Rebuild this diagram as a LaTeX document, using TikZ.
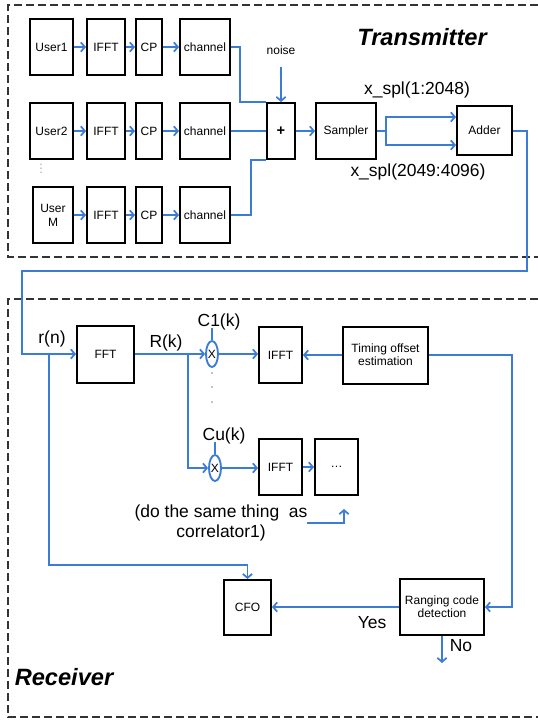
\documentclass[tikz,border=0pt]{standalone}
\usepackage{fontspec}
\setmainfont{Liberation Sans}
\usetikzlibrary{arrows.meta,shapes.geometric}
\definecolor{lineblue}{RGB}{58,124,214}
\begin{document}
\begin{tikzpicture}[x=0.75pt,y=-0.75pt,
  blk/.style={draw=black,line width=1.5pt,fill=white,inner sep=1pt,align=center,font=\fontsize{9}{10.5}\selectfont},
  bl/.style={draw=lineblue,line width=1.4pt},
  arr/.style={bl,-{Straight Barb[length=3pt,width=7pt,line width=1.3pt]}},
  frame/.style={draw=black!80,line width=0.8pt,dash pattern=on 6pt off 3pt},
  big/.style={font=\fontsize{13.1}{15.5}\selectfont},
  small/.style={font=\fontsize{9}{10.5}\selectfont},
  ttl/.style={font=\fontsize{17.7}{20}\selectfont\bfseries\itshape},
  xel/.style={ellipse,draw=lineblue,line width=1.4pt,minimum width=12*0.75pt,minimum height=26*0.75pt,inner sep=0pt,font=\fontsize{9}{10}\selectfont}
]
\useasboundingbox (0,0) rectangle (538,722);
% frames (right edges lie beyond the picture)
\draw[frame] (538,5) -- (8,5) -- (8,257) -- (538,257);
\draw[frame] (538,299) -- (8,299) -- (8,717) -- (538,717);
\node[ttl] (ttx) at (422,37) {Transmitter};
\node[ttl] (trx) at (64,677) {Receiver};

% transmitter rows
\foreach \r/\y/\u in {1/47/User1,2/131/User2}{
  \node[blk,minimum width=43*0.75pt,minimum height=56*0.75pt] (u\r) at (51.5,\y) {\u};
}
\node[blk,minimum width=40*0.75pt,minimum height=56*0.75pt] (u3) at (53,215) {User\\M};
\foreach \r/\y in {1/47,2/131,3/215}{
  \node[blk,minimum width=38*0.75pt,minimum height=56*0.75pt] (if\r) at (106,\y) {IFFT};
  \node[blk,minimum width=26*0.75pt,minimum height=56*0.75pt] (cp\r) at (149,\y) {CP};
  \node[blk,minimum width=50*0.75pt,minimum height=56*0.75pt] (ch\r) at (205,\y) {channel};
  \draw[arr] (u\r) -- (if\r);
  \draw[arr] (if\r) -- (cp\r);
  \draw[arr] (cp\r) -- (ch\r);
}
\foreach \yy in {164,168,172} \fill (41,\yy) circle (0.5);

\node[blk,minimum width=28*0.75pt,minimum height=56*0.75pt,font=\fontsize{11}{12}\selectfont\bfseries] (plus) at (281,131) {+};
\node[small] (noise) at (281,50) {noise};
\coordinate (nz) at (281,67);
\draw[arr] (nz) -- (plus.north);
\draw[bl] (ch1.east) -- (240,47) |- (plus.north west);
\draw[bl] (ch2.east) -- (plus.west);
\draw[bl] (ch3.east) -- (251,215) |- (plus.south west);

\node[blk,minimum width=60*0.75pt,minimum height=56*0.75pt] (samp) at (346,131) {Sampler};
\draw[arr] (plus) -- (samp);
\node[blk,minimum width=55*0.75pt,minimum height=49*0.75pt] (add) at (484.5,130) {Adder};
\coordinate (sp) at (386,131);
\draw[bl] (samp.east) -- (sp);
\draw[arr] (sp) |- (add.west |- 0,117);
\draw[arr] (sp) |- (add.west |- 0,145);
\node[big] (l1) at (417,90) {x\_spl(1:2048)};
\node[big] (l2) at (418,172) {x\_spl(2049:4096)};

% receiver
\node[blk,minimum width=57*0.75pt,minimum height=57*0.75pt] (fft) at (105.5,354) {FFT};
\coordinate (a1) at (527,131);
\coordinate (a2) at (527,271);
\coordinate (a3) at (22,271);
\draw[arr] (add.east |- a1) -- (a1) -- (a2) -- (a3) |- (fft.west);
\node[big] (rn) at (52,339) {r(n)};
\node[big] (rk) at (166,343) {R(k)};

\node[xel] (x1) at (212,354) {X};
\node[xel] (x2) at (215,468) {X};
\node[big] (c1) at (219,322) {C1(k)};
\node[big] (cu) at (224,436) {Cu(k)};
\draw[bl] (x1.north) -- ++(0,-12);
\draw[bl] (x2.north) -- ++(0,-12);
\foreach \yy in {373,387,402} \fill (212,\yy) circle (0.6);

\draw[arr] (fft.east) -- (x1.west);
\coordinate (br) at (188,354);
\draw[arr] (br) |- (x2.west);

\node[blk,minimum width=43*0.75pt,minimum height=56*0.75pt] (ir1) at (280.5,355) {IFFT};
\node[blk,minimum width=43*0.75pt,minimum height=56*0.75pt] (ir2) at (280.5,467) {IFFT};
\node[blk,minimum width=43*0.75pt,minimum height=56*0.75pt] (dots) at (336.5,467) {\ldots};
\node[blk,minimum width=85*0.75pt,minimum height=57*0.75pt] (tim) at (385.5,355) {Timing offset\\[-1pt]estimation};
\draw[arr] (x1.east) -- (ir1.west |- x1.east);
\draw[arr] (x2.east) -- (ir2.west |- x2.east);
\draw[arr] (ir2) -- (dots);
\draw[arr] (tim.west) -- (ir1.east |- tim.west);

\node[big,align=center] (same) at (221,523) {(do the same thing~~as\\correlator1)};
\coordinate (s1) at (307,523);
\coordinate (s2) at (344,509);
\draw[arr] (s1) -| (s2);

\node[blk,minimum width=47*0.75pt,minimum height=55*0.75pt] (cfo) at (247.5,607.5) {CFO};
\node[blk,minimum width=84*0.75pt,minimum height=56*0.75pt] (rng) at (442,607) {Ranging code\\[-1pt]detection};
\coordinate (t1) at (512,355);
\draw[arr] (tim.east) -- (t1) |- (rng.east);
\draw[arr] (rng.west) -- (cfo.east |- rng.west);
\coordinate (no) at (442,663);
\draw[arr] (rng.south) -- (no);
\node[big] (yes) at (372,623) {Yes};
\node[big] (nol) at (461,646) {No};

\coordinate (r1) at (49,354);
\coordinate (r2) at (49,565);
\draw[arr] (r1) -- (r2) -| (cfo.north);
\end{tikzpicture}
\end{document}
